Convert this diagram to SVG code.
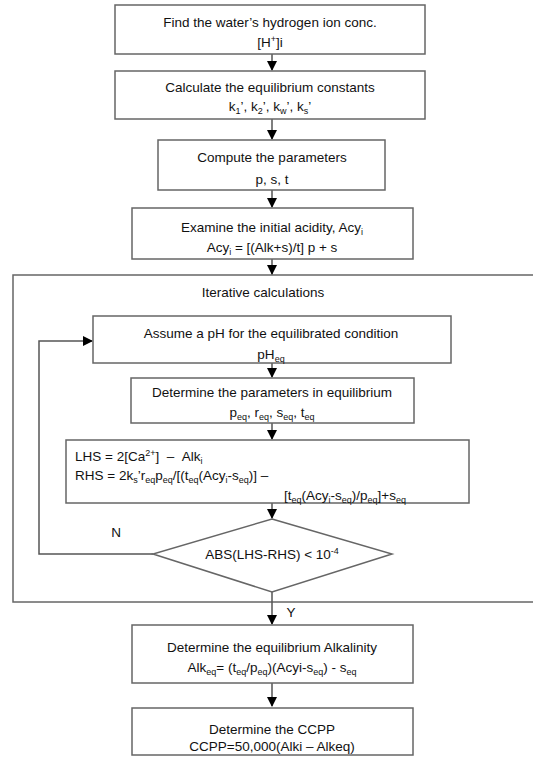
<svg xmlns="http://www.w3.org/2000/svg" width="533" height="757" viewBox="0 0 533 757">
<style>
text{font-family:"Liberation Sans",Arial,sans-serif;font-size:13.5px;fill:#111}
.c{text-anchor:middle}
.box{fill:#fff;stroke:#666;stroke-width:1.5}
.ln{fill:none;stroke:#555;stroke-width:1.5}
.b{font-size:9px;baseline-shift:-3px}
.p{font-size:9px;baseline-shift:5px}
</style>
<defs>
<marker id="ah" markerWidth="10" markerHeight="10" refX="9" refY="5" orient="auto" markerUnits="userSpaceOnUse">
<path d="M0,0 L10,5 L0,10 Z" fill="#000"/>
</marker>
</defs>
<rect width="533" height="757" fill="#fff"/>

<g id="iterative">
<rect class="box" x="13" y="275" width="540" height="327"/>
<text class="c" x="263" y="297">Iterative calculations</text>
</g>

<g id="connectors">
<line class="ln" x1="272" y1="54" x2="272" y2="70" marker-end="url(#ah)"/>
<line class="ln" x1="272" y1="119" x2="272" y2="139" marker-end="url(#ah)"/>
<line class="ln" x1="272" y1="190" x2="272" y2="207" marker-end="url(#ah)"/>
<line class="ln" x1="272" y1="259" x2="272" y2="274" marker-end="url(#ah)"/>
<line class="ln" x1="272" y1="363" x2="272" y2="377" marker-end="url(#ah)"/>
<line class="ln" x1="272" y1="423" x2="272" y2="439" marker-end="url(#ah)"/>
<line class="ln" x1="272" y1="503" x2="272" y2="518" marker-end="url(#ah)"/>
<polyline class="ln" points="153,554 39,554 39,341 92,341" marker-end="url(#ah)"/>
<line class="ln" x1="272" y1="592" x2="272" y2="624" marker-end="url(#ah)"/>
<line class="ln" x1="272" y1="683" x2="272" y2="706" marker-end="url(#ah)"/>
<text class="c" x="116" y="537">N</text>
<text class="c" x="291" y="617">Y</text>
</g>

<g id="n1">
<rect class="box" x="115" y="5" width="310" height="49"/>
<text class="c" x="270" y="27">Find the water’s hydrogen ion conc.</text>
<text class="c" x="270" y="47">[H<tspan class="p">+</tspan>]i</text>
</g>

<g id="n2">
<rect class="box" x="115" y="71" width="310" height="48"/>
<text class="c" x="270" y="92">Calculate the equilibrium constants</text>
<text class="c" x="270" y="111">k<tspan class="b">1</tspan>’, k<tspan class="b">2</tspan>’, k<tspan class="b">w</tspan>’, k<tspan class="b">s</tspan>’</text>
</g>

<g id="n3">
<rect class="box" x="158" y="140" width="227" height="50"/>
<text class="c" x="272" y="162">Compute the parameters</text>
<text class="c" x="272" y="184">p, s, t</text>
</g>

<g id="n4">
<rect class="box" x="132" y="208" width="281" height="51"/>
<text class="c" x="272" y="232">Examine the initial acidity, Acy<tspan class="b">i</tspan></text>
<text class="c" x="272" y="252">Acy<tspan class="b">i</tspan> = [(Alk+s)/t] p + s</text>
</g>

<g id="n5">
<rect class="box" x="93" y="316" width="358" height="47"/>
<text class="c" x="271" y="338">Assume a pH for the equilibrated condition</text>
<text class="c" x="271" y="359">pH<tspan class="b">eq</tspan></text>
</g>

<g id="n6">
<rect class="box" x="131" y="378" width="283" height="45"/>
<text class="c" x="272" y="397">Determine the parameters in equilibrium</text>
<text class="c" x="272" y="417">p<tspan class="b">eq</tspan>, r<tspan class="b">eq</tspan>, s<tspan class="b">eq</tspan>, t<tspan class="b">eq</tspan></text>
</g>

<g id="n7">
<rect class="box" x="66" y="440" width="403" height="63"/>
<text x="75" y="461">LHS = 2[Ca<tspan class="p">2+</tspan>] &#160;– &#160;Alk<tspan class="b">i</tspan></text>
<text x="75" y="480">RHS = 2k<tspan class="b">s</tspan>’r<tspan class="b">eq</tspan>p<tspan class="b">eq</tspan>/[(t<tspan class="b">eq</tspan>(Acy<tspan class="b">i</tspan>-s<tspan class="b">eq</tspan>)] –</text>
<text x="284" y="500">[t<tspan class="b">eq</tspan>(Acy<tspan class="b">i</tspan>-s<tspan class="b">eq</tspan>)/p<tspan class="b">eq</tspan>]+s<tspan class="b">eq</tspan></text>
</g>

<g id="n8">
<polygon class="box" points="272,519 392,554 272,592 153,554"/>
<text class="c" x="272" y="559">ABS(LHS-RHS) &lt; 10<tspan class="p">-4</tspan></text>
</g>

<g id="n9">
<rect class="box" x="132" y="625" width="281" height="58"/>
<text class="c" x="272" y="652">Determine the equilibrium Alkalinity</text>
<text class="c" x="272" y="672">Alk<tspan class="b">eq</tspan>= (t<tspan class="b">eq</tspan>/p<tspan class="b">eq</tspan>)(Acyi-s<tspan class="b">eq</tspan>) - s<tspan class="b">eq</tspan></text>
</g>

<g id="n10">
<rect class="box" x="132" y="708" width="281" height="47"/>
<text class="c" x="272" y="734">Determine the CCPP</text>
<text class="c" x="272" y="751">CCPP=50,000(Alki – Alkeq)</text>
</g>
</svg>
